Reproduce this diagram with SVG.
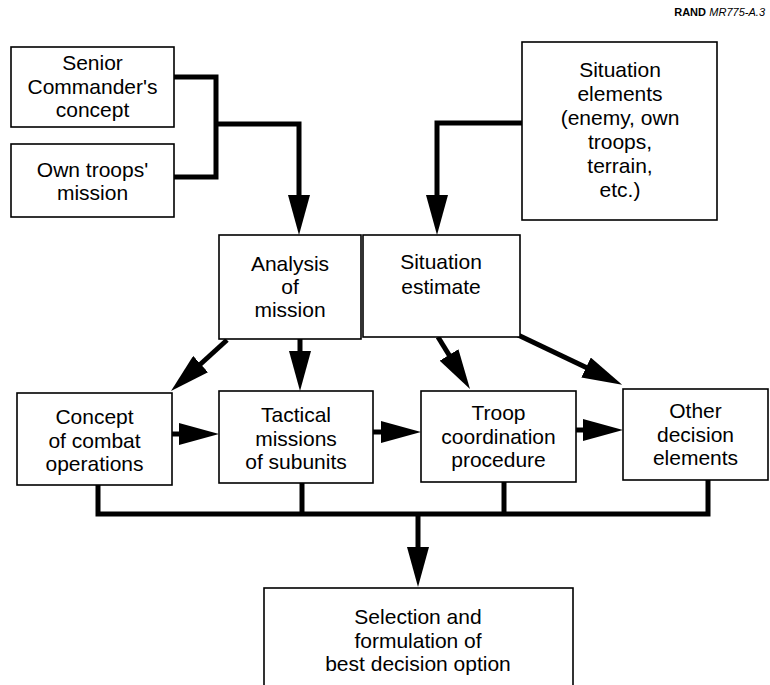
<svg xmlns="http://www.w3.org/2000/svg" width="770" height="685" viewBox="0 0 770 685">
<style>
.box{fill:#fff;stroke:#000;stroke-width:1.6}
.t{font-family:"Liberation Sans",Arial,Helvetica,sans-serif;font-size:21px;fill:#000;text-anchor:middle}
.c{fill:none;stroke:#000;stroke-width:5}
.a{fill:none;stroke:#000;stroke-width:5;marker-end:url(#ah)}
.lab{font-family:"Liberation Sans",Arial,Helvetica,sans-serif;font-size:11px;fill:#000}
</style>
<defs>
<marker id="ah" viewBox="0 0 40 22" refX="20" refY="11" markerWidth="40" markerHeight="22" markerUnits="userSpaceOnUse" orient="auto">
<path d="M0,0 L40,11 L0,22 Z" fill="#000"/>
</marker>
</defs>
<rect width="770" height="685" fill="#fff"/>
<text class="lab" x="706" y="16" text-anchor="end" font-weight="bold">RAND</text>
<text class="lab" x="765" y="16" text-anchor="end" font-style="italic">MR775-A.3</text>

<g id="connectors">
<path class="c" d="M174,77 H216 V177 H174"/>
<path class="a" d="M216,124 H299 V215"/>
<path class="a" d="M522,123 H437 V215"/>
<path class="a" d="M227,340 L185.8,377.5"/>
<path class="a" d="M300,339 V371"/>
<path class="a" d="M438,337 L459.5,372"/>
<path class="a" d="M518,335 L604.1,376.1"/>
<path class="a" d="M172,434 H199"/>
<path class="a" d="M373,432 H401"/>
<path class="a" d="M576,430 H603"/>
<path class="c" d="M98,485 V514 H708 V480"/>
<path class="c" d="M302,483 V514"/>
<path class="c" d="M504,482 V514"/>
<path class="a" d="M418,514 V567"/>
</g>

<g id="senior">
<rect class="box" x="11" y="47" width="163" height="80"/>
<text class="t" x="92.5" y="70">Senior</text>
<text class="t" x="92.5" y="94">Commander's</text>
<text class="t" x="92.5" y="117">concept</text>
</g>
<g id="own">
<rect class="box" x="11" y="144" width="163" height="73"/>
<text class="t" x="92.5" y="177">Own troops'</text>
<text class="t" x="92.5" y="200">mission</text>
</g>
<g id="elements">
<rect class="box" x="522" y="42" width="195" height="178"/>
<text class="t" x="620" y="77">Situation</text>
<text class="t" x="620" y="101">elements</text>
<text class="t" x="620" y="125">(enemy, own</text>
<text class="t" x="620" y="149">troops,</text>
<text class="t" x="620" y="173">terrain,</text>
<text class="t" x="620" y="197">etc.)</text>
</g>
<g id="analysis">
<rect class="box" x="219" y="235" width="142" height="104"/>
<text class="t" x="290" y="271">Analysis</text>
<text class="t" x="290" y="294">of</text>
<text class="t" x="290" y="317">mission</text>
</g>
<g id="estimate">
<rect class="box" x="363" y="235" width="157" height="102"/>
<text class="t" x="441" y="269">Situation</text>
<text class="t" x="441" y="294">estimate</text>
</g>
<g id="concept">
<rect class="box" x="17" y="393" width="155" height="92"/>
<text class="t" x="94.5" y="424">Concept</text>
<text class="t" x="94.5" y="448">of combat</text>
<text class="t" x="94.5" y="471">operations</text>
</g>
<g id="tactical">
<rect class="box" x="219" y="391" width="154" height="92"/>
<text class="t" x="296" y="422">Tactical</text>
<text class="t" x="296" y="446">missions</text>
<text class="t" x="296" y="469">of subunits</text>
</g>
<g id="troop">
<rect class="box" x="421" y="391" width="155" height="91"/>
<text class="t" x="498.5" y="420">Troop</text>
<text class="t" x="498.5" y="444">coordination</text>
<text class="t" x="498.5" y="467">procedure</text>
</g>
<g id="other">
<rect class="box" x="623" y="389" width="145" height="91"/>
<text class="t" x="695.5" y="418">Other</text>
<text class="t" x="695.5" y="442">decision</text>
<text class="t" x="695.5" y="465">elements</text>
</g>
<g id="selection">
<rect class="box" x="264" y="588" width="309" height="104"/>
<text class="t" x="418" y="624">Selection and</text>
<text class="t" x="418" y="648">formulation of</text>
<text class="t" x="418" y="671">best decision option</text>
</g>
</svg>
